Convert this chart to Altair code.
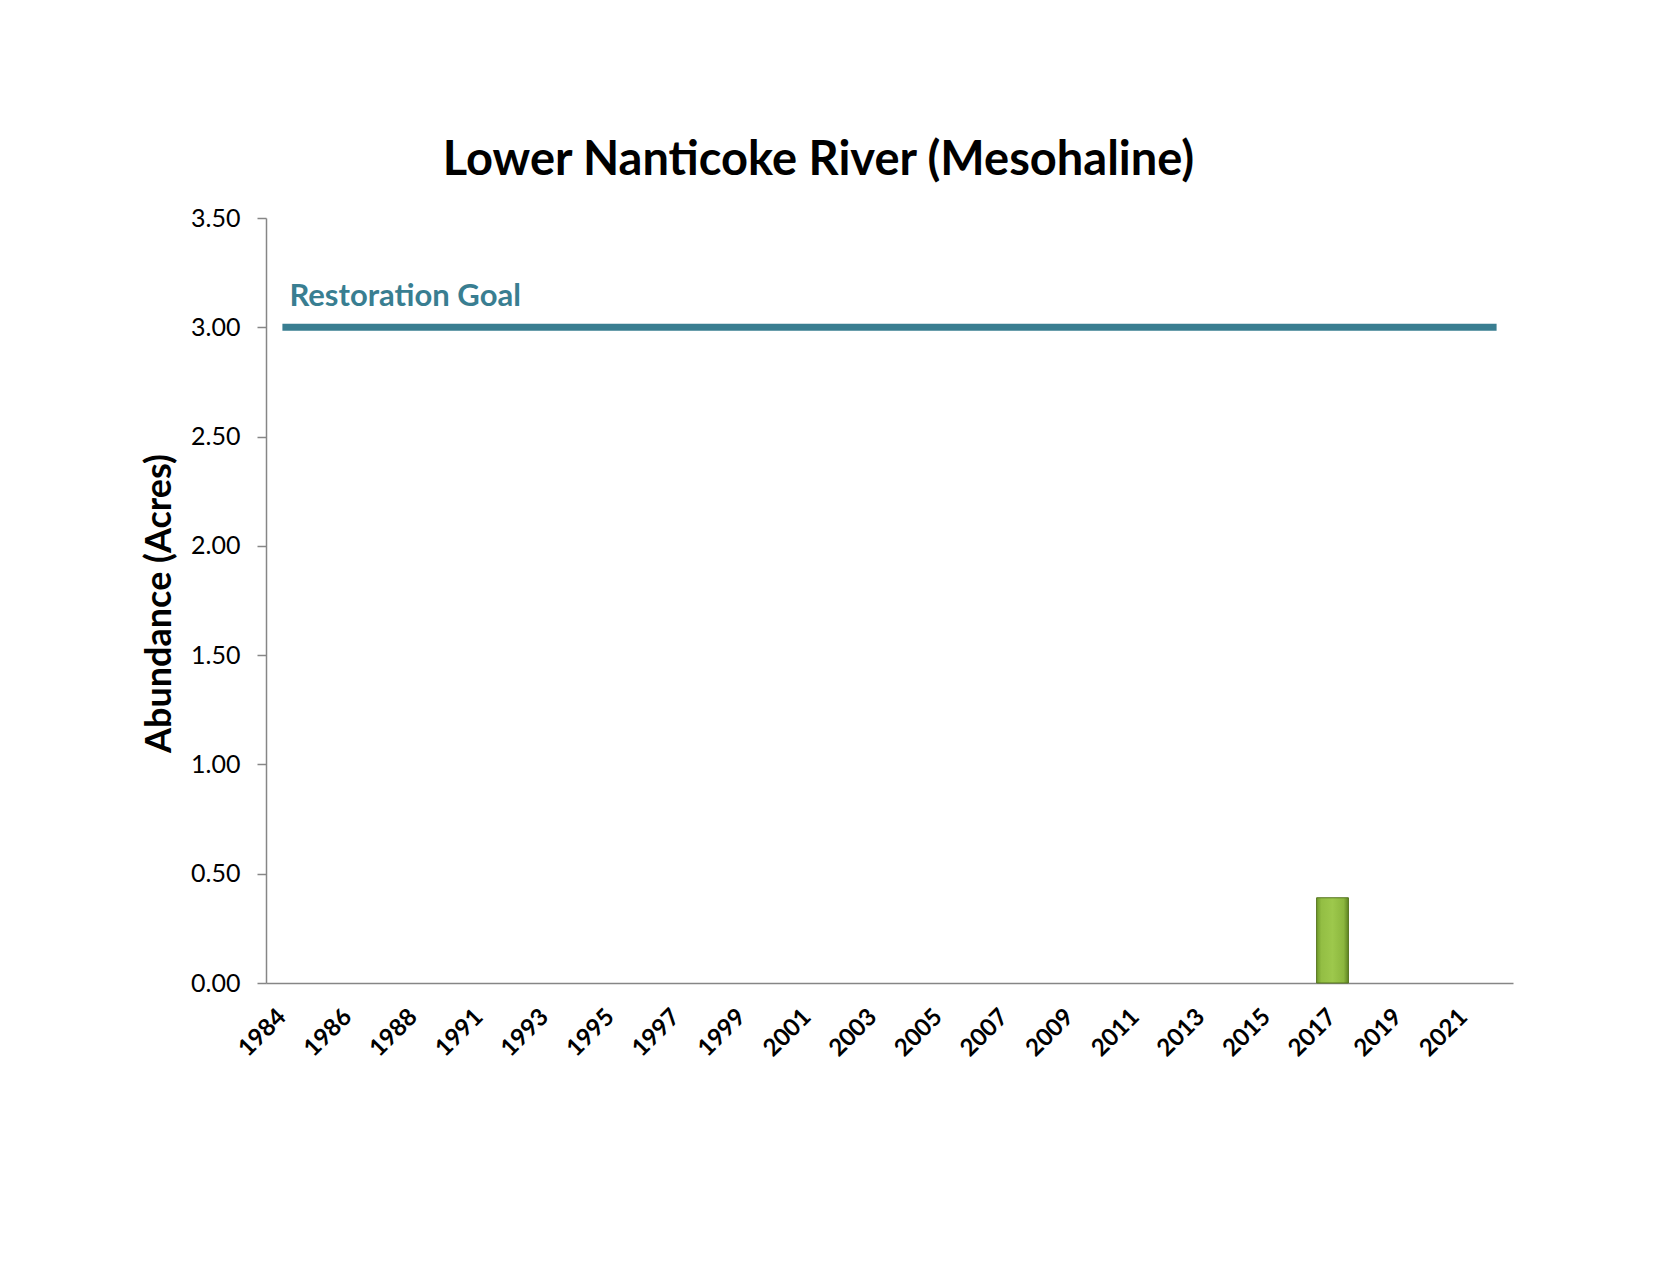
import altair as alt
import pandas as pd

years = [str(y) for y in list(range(1984, 1990)) + list(range(1991, 2023))]
acres = [0.0] * len(years)
acres[years.index("2017")] = 0.39
goal_value = 3.0
goal_label = "Restoration Goal"
label_years = years[::2]

FONT = "Lato"

bars_df = pd.DataFrame({"year": years, "acres": acres})
goal_df = pd.DataFrame({"start": [years[0]], "end": [years[-1]], "goal": [goal_value], "label": [goal_label]})

x_scale = alt.Scale(domain=years, paddingInner=0.03, paddingOuter=0.015)
y_scale = alt.Scale(domain=[0, 3.5])

bars = alt.Chart(bars_df).transform_filter("datum.acres > 0").mark_bar(
    color=alt.LinearGradient(
        gradient="linear", x1=0, x2=1, y1=0, y2=0,
        stops=[alt.GradientStop(offset=0, color="#6F9A2A"),
               alt.GradientStop(offset=0.15, color="#93BE44"),
               alt.GradientStop(offset=0.5, color="#9DC84C"),
               alt.GradientStop(offset=0.85, color="#8CB73E"),
               alt.GradientStop(offset=1, color="#5F8522")]),
    stroke="#55741E", strokeWidth=1,
).encode(
    x=alt.X("year:N", scale=x_scale, sort=years,
            axis=alt.Axis(title=None, values=label_years, labelAngle=-45, labelAlign="right",
                          labelBaseline="middle", labelFont=FONT, labelFontWeight="bold",
                          labelFontSize=24, labelColor="#000000", labelPadding=30,
                          ticks=False, domainColor="#868686", domainWidth=1.5, grid=False)),
    y=alt.Y("acres:Q", scale=y_scale,
            axis=alt.Axis(title="Abundance (Acres)", values=[0, 0.5, 1, 1.5, 2, 2.5, 3, 3.5],
                          format=".2f", labelFont=FONT, labelFontSize=25, labelColor="#000000",
                          labelPadding=17, tickSize=9, tickColor="#868686", tickWidth=1.5,
                          domainColor="#868686", domainWidth=1.5, grid=False,
                          titleFont=FONT, titleFontSize=36, titleFontWeight="bold",
                          titleColor="#000000", titleX=-107, titleY=385, titleAngle=-90,
                          titleAlign="center", titleBaseline="middle")),
)

goal_line = alt.Chart(goal_df).mark_rule(color="#397E91", strokeWidth=7).encode(
    x=alt.X("start:N", scale=x_scale, sort=years),
    x2="end:N",
    y=alt.Y("goal:Q", scale=y_scale),
)

goal_text = alt.Chart(goal_df).mark_text(
    align="left", baseline="alphabetic", dx=7, dy=-21,
    font=FONT, fontSize=31, fontWeight="bold", color="#397E91",
).encode(
    x=alt.X("start:N", scale=x_scale, sort=years),
    y=alt.Y("goal:Q", scale=y_scale),
    text="label:N",
)

chart = alt.layer(bars, goal_line, goal_text).properties(
    width=1247, height=765,
    background="#FFFFFF",
    title=alt.TitleParams("Lower Nanticoke River (Mesohaline)", font=FONT, fontSize=47,
                          fontWeight="bold", color="#000000", anchor="middle", dx=-71, offset=21),
    autosize=alt.AutoSizeParams(type="none"),
    padding={"left": 258, "top": 210, "right": 140, "bottom": 280},
).configure_view(strokeWidth=0, stroke="transparent")

chart.save("out.html", embed_options={"renderer": "svg", "actions": False})
